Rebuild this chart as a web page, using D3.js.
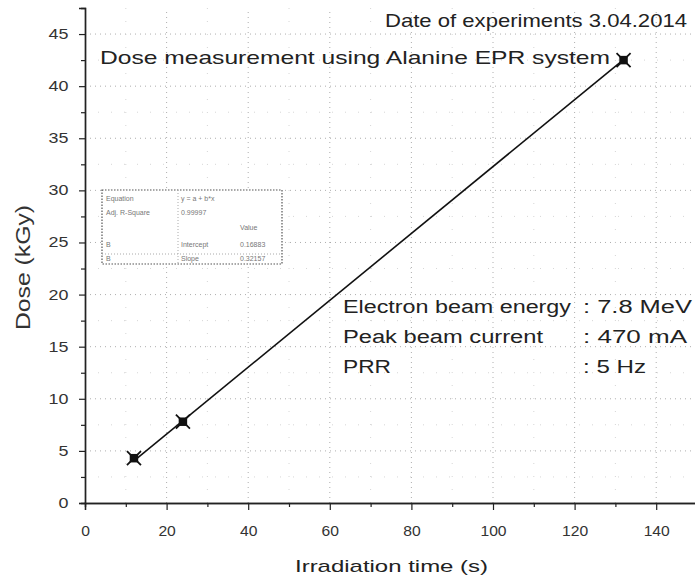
<!DOCTYPE html>
<html>
<head>
<meta charset="utf-8">
<script src="https://cdn.jsdelivr.net/npm/d3@7"></script>
<style>
  body { margin: 0; background: #fff; }
  text { font-family: "Liberation Sans", Arial, sans-serif; fill: #222; }
</style>
</head>
<body>
<div class="chart"></div>
<script>
// measured points
var timeS = [12, 24, 132]
var doseKGy = [4.3, 7.8, 42.5]
// fitted line end points
var fitTime = [12, 132]
var fitDose = [4.05, 42.55]

var xTicks = [0, 20, 40, 60, 80, 100, 120, 140]
var yTicks = [0, 5, 10, 15, 20, 25, 30, 35, 40, 45]

var fitRows = [
  ["Equation", "y = a + b*x", ""],
  ["Adj. R-Square", "0.99997", ""],
  ["", "", "Value"],
  ["B", "Intercept", "0.16883"],
  ["B", "Slope", "0.32157"]
]
var beamLabels = ["Electron beam energy", "Peak beam current", "PRR"]
var beamValues = [": 7.8 MeV", ": 470 mA", ": 5 Hz"]

var svg = d3.select(".chart").append("svg").attr("width", 695).attr("height", 580)

var x = d3.scaleLinear().domain([0, 150]).range([85, 697])
var y = d3.scaleLinear().domain([0, 47.5]).range([503, 8])

// grid
var grid = svg.append("g")
grid.selectAll(".gx").data(xTicks.slice(1)).enter().append("line")
  .attr("x1", d => x(d)).attr("x2", d => x(d)).attr("y1", y(0)).attr("y2", y(47.5))
  .attr("stroke", "#999").attr("stroke-width", 0.8).attr("stroke-dasharray", "1,4")
grid.selectAll(".gy").data(yTicks.slice(1)).enter().append("line")
  .attr("x1", x(0)).attr("x2", 695).attr("y1", d => y(d)).attr("y2", d => y(d))
  .attr("stroke", "#999").attr("stroke-width", 0.8).attr("stroke-dasharray", "1,4")
grid.selectAll(".mx").data(d3.range(10, 150, 20)).enter().append("line")
  .attr("x1", d => x(d)).attr("x2", d => x(d)).attr("y1", y(0)).attr("y2", y(47.5))
  .attr("stroke", "#ccc").attr("stroke-width", 0.8).attr("stroke-dasharray", "1,12")
grid.selectAll(".my").data(d3.range(2.5, 47.5, 5)).enter().append("line")
  .attr("x1", x(0)).attr("x2", 695).attr("y1", d => y(d)).attr("y2", d => y(d))
  .attr("stroke", "#ccc").attr("stroke-width", 0.8).attr("stroke-dasharray", "1,12")

// axes
var xAxis = svg.append("g").attr("transform", "translate(0," + y(0) + ")")
  .call(d3.axisBottom(x).tickValues(xTicks).tickSize(7).tickPadding(16).tickFormat(d3.format("d")))
var xMinor = svg.append("g").attr("transform", "translate(0," + y(0) + ")")
  .call(d3.axisBottom(x).tickValues(d3.range(10, 150, 20)).tickSize(4).tickFormat(""))
var yAxis = svg.append("g").attr("transform", "translate(" + x(0) + ",0)")
  .call(d3.axisLeft(y).tickValues(yTicks).tickSize(6).tickPadding(7).tickFormat(d3.format("d")))
var yMinor = svg.append("g").attr("transform", "translate(" + x(0) + ",0)")
  .call(d3.axisLeft(y).tickValues(d3.range(2.5, 47.5, 5)).tickSize(4).tickFormat(""))

svg.selectAll(".domain").attr("stroke", "#222").attr("stroke-width", 1.4)
svg.selectAll(".tick line").attr("stroke", "#222").attr("stroke-width", 1.2)
svg.selectAll(".tick text").style("font-size", "14px").style("fill", "#333")
  .style("font-family", "Liberation Sans, Arial, sans-serif")
xAxis.selectAll(".tick text").attr("transform", "scale(1.12,1)")
yAxis.selectAll(".tick text").attr("transform", "scale(1.28,1)")

// axis titles
svg.append("text").attr("x", 295).attr("y", 572)
  .attr("textLength", 193).attr("lengthAdjust", "spacingAndGlyphs")
  .text("Irradiation time (s)").style("font-size", "17px")
svg.append("text").attr("transform", "translate(30,330) scale(1.15,1) rotate(-90)")
  .attr("textLength", 125).attr("lengthAdjust", "spacingAndGlyphs")
  .text("Dose (kGy)").style("font-size", "17px").style("fill", "#333")

// fit line
svg.append("line")
  .attr("x1", x(fitTime[0])).attr("y1", y(fitDose[0]))
  .attr("x2", x(fitTime[1])).attr("y2", y(fitDose[1]))
  .attr("stroke", "#111").attr("stroke-width", 1.6)

// markers
var pts = svg.selectAll(".pt").data(timeS).enter().append("g")
  .attr("transform", (d, i) => "translate(" + x(d) + "," + y(doseKGy[i]) + ")")
pts.append("path").attr("d", d3.symbol().type(d3.symbolSquare).size(72)).attr("fill", "#111")
pts.append("path").attr("d", d3.symbol().type(d3.symbolTimes).size(130))
  .attr("fill", "none").attr("stroke", "#111").attr("stroke-width", 1.8)

// texts
svg.append("text").attr("x", 385).attr("y", 27)
  .attr("textLength", 302).attr("lengthAdjust", "spacingAndGlyphs")
  .text("Date of experiments 3.04.2014").style("font-size", "19px")
svg.append("text").attr("x", 100).attr("y", 64)
  .attr("textLength", 510).attr("lengthAdjust", "spacingAndGlyphs")
  .text("Dose measurement using Alanine EPR system").style("font-size", "19px")

var labelLen = [228, 200, 48]
var valueLen = [109, 104, 63]
svg.selectAll(".bl").data(beamLabels).enter().append("text")
  .attr("x", 343).attr("y", (d, i) => 313 + i * 30)
  .attr("textLength", (d, i) => labelLen[i]).attr("lengthAdjust", "spacingAndGlyphs")
  .text(d => d).style("font-size", "18px")
svg.selectAll(".bv").data(beamValues).enter().append("text")
  .attr("x", 583).attr("y", (d, i) => 313 + i * 30)
  .attr("textLength", (d, i) => valueLen[i]).attr("lengthAdjust", "spacingAndGlyphs")
  .text(d => d).style("font-size", "18px")

// fit table box
var box = svg.append("g")
box.append("rect").attr("x", 102).attr("y", 190).attr("width", 180).attr("height", 74)
  .attr("fill", "#fff").attr("stroke", "#555").attr("stroke-width", 1.2).attr("stroke-dasharray", "1.5,1.5")
box.append("line").attr("x1", 178).attr("x2", 178).attr("y1", 190).attr("y2", 264)
  .attr("stroke", "#aaa").attr("stroke-dasharray", "1,2")
box.append("line").attr("x1", 102).attr("x2", 282).attr("y1", 254).attr("y2", 254)
  .attr("stroke", "#aaa").attr("stroke-dasharray", "1,2")
var colX = [106, 181, 240]
var rowY = [201, 215, 230, 247, 261]
fitRows.forEach((row, r) => {
  row.forEach((cell, c) => {
    box.append("text").attr("x", colX[c]).attr("y", rowY[r])
      .text(cell).style("font-size", "7px").style("fill", "#777")
  })
})
</script>
</body>
</html>
